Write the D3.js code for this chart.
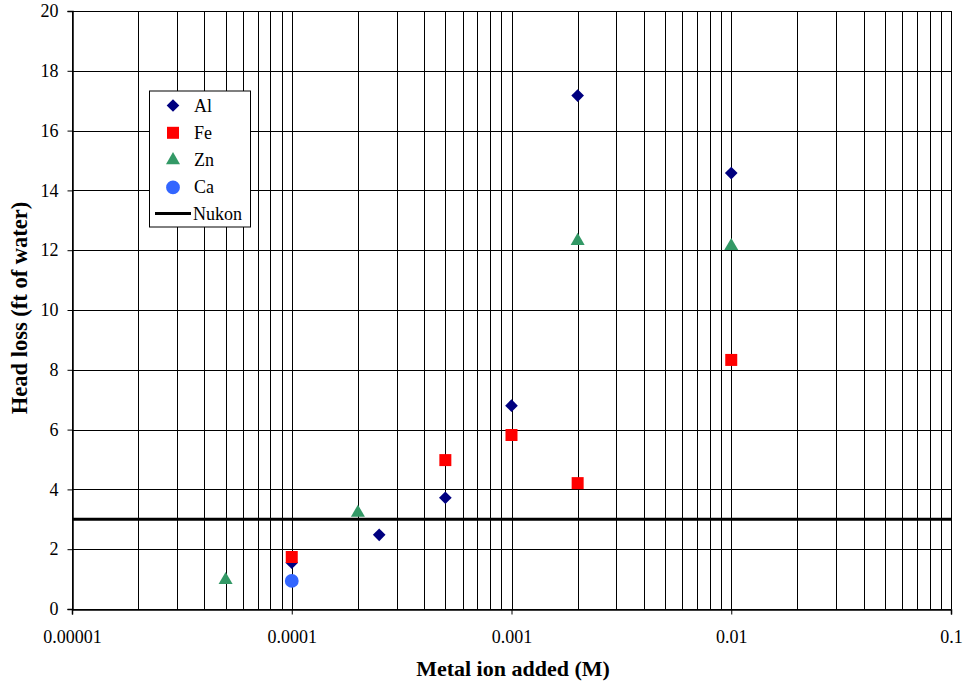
<!DOCTYPE html>
<html>
<head>
<meta charset="utf-8">
<script src="https://cdn.jsdelivr.net/npm/d3@7"></script>
<style>
  body { margin: 0; background: #fff; }
</style>
</head>
<body>
<div id="chart"></div>
<script>
// data
var alX = [0.0001, 0.00025, 0.0005, 0.001, 0.002, 0.01];
var alY = [1.55, 2.48, 3.72, 6.8, 17.17, 14.58];
var feX = [0.0001, 0.0005, 0.001, 0.002, 0.01];
var feY = [1.74, 4.98, 5.82, 4.21, 8.33];
var znX = [0.00005, 0.0002, 0.002, 0.01];
var znY = [0.97, 3.22, 12.31, 12.14];
var caX = [0.0001];
var caY = [0.94];
var nukon = 3;
var xTicks = [0.00001, 0.0001, 0.001, 0.01, 0.1];
var xTickLabels = ['0.00001', '0.0001', '0.001', '0.01', '0.1'];
var yTicks = [0, 2, 4, 6, 8, 10, 12, 14, 16, 18, 20];

var width = 966, height = 689;
var margin = { left: 72, right: 15, top: 11, bottom: 80 };
var serif = 'Liberation Serif';

var svg = d3.select('#chart').append('svg')
  .attr('width', width)
  .attr('height', height)
  .attr('font-family', serif);

var x = d3.scaleLog().domain([0.00001, 0.1]).range([margin.left, width - margin.right]);
var y = d3.scaleLinear().domain([0, 20]).range([height - margin.bottom, margin.top]);

var g = svg.append('g');

// vertical grid lines, every minor step of each decade
var minor = [];
[0.00001, 0.0001, 0.001, 0.01].forEach(function (d) {
  for (var k = 1; k <= 10; k++) minor.push(d * k);
});
g.selectAll('.vgrid')
  .data(minor)
  .enter().append('line')
  .attr('x1', function (d) { return Math.round(x(d)) + 0.5; })
  .attr('x2', function (d) { return Math.round(x(d)) + 0.5; })
  .attr('y1', y(0))
  .attr('y2', y(20))
  .attr('stroke', '#000')
  .attr('stroke-width', 1);

// horizontal grid lines
g.selectAll('.hgrid')
  .data(yTicks)
  .enter().append('line')
  .attr('x1', x(0.00001))
  .attr('x2', x(0.1))
  .attr('y1', function (d) { return Math.round(y(d)) + 0.5; })
  .attr('y2', function (d) { return Math.round(y(d)) + 0.5; })
  .attr('stroke', '#000')
  .attr('stroke-width', 1);

// axes
var yAxis = d3.axisLeft(y).tickValues(yTicks).tickSize(5).tickPadding(9);
var yG = svg.append('g')
  .attr('transform', 'translate(' + (margin.left + 0.5) + ',0)')
  .call(yAxis);

var xAxis = d3.axisBottom(x).tickValues(xTicks)
  .tickFormat(function (d, i) { return xTickLabels[i]; })
  .tickSize(5).tickPadding(16);
var xG = svg.append('g')
  .attr('transform', 'translate(0,' + (Math.round(y(0)) + 0.5) + ')')
  .call(xAxis);

[yG, xG].forEach(function (a) {
  a.attr('font-family', serif);
  a.select('.domain').attr('stroke', '#000').attr('stroke-width', 1.5);
  a.selectAll('.tick line').attr('stroke', '#000');
  a.selectAll('.tick text')
    .attr('font-size', 18)
    .attr('fill', '#000');
});

// Nukon line
svg.append('line')
  .attr('x1', x(0.00001))
  .attr('x2', x(0.1))
  .attr('y1', y(nukon))
  .attr('y2', y(nukon))
  .attr('stroke', '#000')
  .attr('stroke-width', 3);

// markers
function pts(xs, ys) {
  return xs.map(function (d, i) { return { x: d, y: ys[i] }; });
}
var series = [
  { name: 'Al', data: pts(alX, alY), color: '#000080', shape: d3.symbolSquare, size: 80, rot: 45 },
  { name: 'Fe', data: pts(feX, feY), color: '#FF0000', shape: d3.symbolSquare, size: 144, rot: 0 },
  { name: 'Zn', data: pts(znX, znY), color: '#339966', shape: d3.symbolTriangle, size: 85, rot: 0 },
  { name: 'Ca', data: pts(caX, caY), color: '#3366FF', shape: d3.symbolCircle, size: 150, rot: 0 }
];

series.forEach(function (s) {
  svg.append('g').selectAll('path')
    .data(s.data)
    .enter().append('path')
    .attr('transform', function (d) {
      return 'translate(' + x(d.x) + ',' + y(d.y) + ') rotate(' + s.rot + ')';
    })
    .attr('d', d3.symbol().type(s.shape).size(s.size))
    .attr('fill', s.color);
});

// legend
var lg = svg.append('g').attr('transform', 'translate(149.5,91)');
lg.append('rect')
  .attr('x', 0).attr('y', 0)
  .attr('width', 101).attr('height', 136)
  .attr('fill', '#fff')
  .attr('stroke', '#000');

series.forEach(function (s, i) {
  var yy = 14.5 + i * 27.3;
  lg.append('path')
    .attr('transform', 'translate(23.5,' + yy + ') rotate(' + s.rot + ')')
    .attr('d', d3.symbol().type(s.shape).size(s.size))
    .attr('fill', s.color);
  lg.append('text')
    .attr('x', 44.5).attr('y', yy + 6)
    .attr('font-size', 18)
    .text(s.name);
});
lg.append('line')
  .attr('x1', 5.5).attr('x2', 41.5)
  .attr('y1', 122.5).attr('y2', 122.5)
  .attr('stroke', '#000').attr('stroke-width', 3);
lg.append('text')
  .attr('x', 43.5).attr('y', 128.5)
  .attr('font-size', 18)
  .text('Nukon');

// axis titles
svg.append('text')
  .attr('transform', 'translate(27,308) rotate(-90)')
  .attr('text-anchor', 'middle')
  .attr('font-size', 22.5)
  .attr('font-weight', 'bold')
  .text('Head loss (ft of water)');

svg.append('text')
  .attr('x', 513).attr('y', 676)
  .attr('text-anchor', 'middle')
  .attr('font-size', 22)
  .attr('font-weight', 'bold')
  .text('Metal ion added (M)');
</script>
</body>
</html>
